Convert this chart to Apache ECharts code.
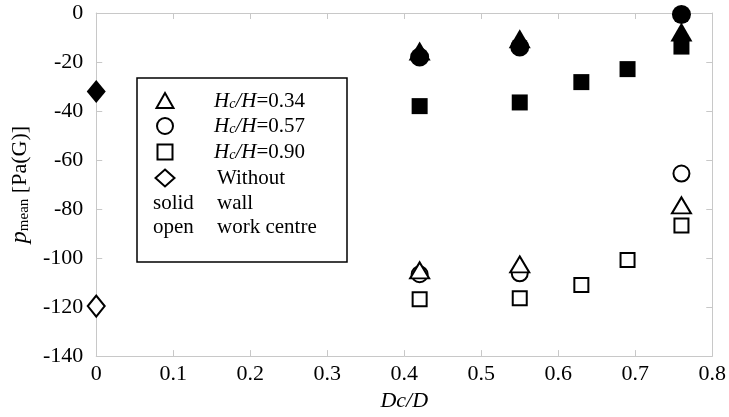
<!DOCTYPE html>
<html><head><meta charset="utf-8">
<script src="https://cdn.jsdelivr.net/npm/echarts@6/dist/echarts.min.js"></script>
<style>html,body{margin:0;padding:0;background:#fff}#c{width:729px;height:417px}</style>
</head><body><div id="c"></div>
<script>
// x positions (Dc/D)
const dc0 = [0];
const dc3 = [0.42, 0.55, 0.76];
const dc5 = [0.42, 0.55, 0.63, 0.69, 0.76];
// solid = wall
const wall034 = [-15.5, -10.5, -7.8];
const wall057 = [-18, -13.9, -0.6];
const wall090 = [-38, -36.5, -28.2, -22.9, -13.7];
const wallWithout = [-32];
// open = work centre
const open034 = [-105, -102.6, -78.5];
const open057 = [-106.6, -106.2, -65.5];
const open090 = [-116.8, -116.4, -111, -100.8, -86.7];
const openWithout = [-119.6];
// axes
const xMin = 0, xMax = 0.8, xStep = 0.1;
const yMin = -140, yMax = 0, yStep = 20;

const FONT = '"Liberation Serif", "Times New Roman", serif';
const GREY = '#c8c8c8';

function pts(xs, ys) { return xs.map((x, i) => [x, ys[i]]); }
function ser(name, xs, ys, symbol, size, filled) {
  return {
    name, type: 'scatter', data: pts(xs, ys), symbol, symbolSize: size,
    itemStyle: filled ? { color: '#000', opacity: 1 } : { color: '#fff', borderColor: '#000', borderWidth: 2, opacity: 1 },
    emphasis: { disabled: true }, silent: true
  };
}

const chart = echarts.init(document.getElementById('c'), null, { renderer: 'canvas' });

const axX = (pos, labels) => ({
  type: 'value', position: pos, min: xMin, max: xMax, interval: xStep,
  axisLine: { show: true, onZero: false, lineStyle: { color: GREY, width: 1 } },
  axisTick: { show: true, inside: true, length: 6, lineStyle: { color: GREY } },
  axisLabel: { show: labels, color: '#000', fontFamily: FONT, fontSize: 22, margin: 7 },
  splitLine: { show: false }
});
const axY = (pos, labels) => ({
  type: 'value', position: pos, min: yMin, max: yMax, interval: yStep,
  axisLine: { show: true, onZero: false, lineStyle: { color: GREY, width: 1 } },
  axisTick: { show: true, inside: true, length: 6, lineStyle: { color: GREY } },
  axisLabel: { show: labels, color: '#000', fontFamily: FONT, fontSize: 22, margin: 13 },
  splitLine: { show: false }
});

const xBottom = axX('bottom', true);
xBottom.name = 'Dc/D';
xBottom.nameLocation = 'middle';
xBottom.nameGap = 33;
xBottom.nameTextStyle = { color: '#000', fontFamily: FONT, fontSize: 22, fontStyle: 'italic' };

const yLeft = axY('left', true);
yLeft.name = '{i|p}{s|mean}{n| [Pa(G)]}';
yLeft.nameLocation = 'middle';
yLeft.nameRotate = 90;
yLeft.nameGap = 64;
yLeft.nameTextStyle = {
  color: '#000', fontFamily: FONT, fontSize: 22,
  rich: {
    i: { fontFamily: FONT, fontSize: 24, fontStyle: 'italic', color: '#000' },
    s: { fontFamily: FONT, fontSize: 15, color: '#000', verticalAlign: 'bottom', padding: [8, 0, 0, 0] },
    n: { fontFamily: FONT, fontSize: 22, color: '#000' }
  }
};

// legend (drawn as a boxed key)
const LX = 165, TX = 214, SX = 153;
const rowY = [101, 126, 152, 178, 203, 227];
const legendRich = {
  i: { fontFamily: FONT, fontSize: 21, fontStyle: 'italic', fill: '#000' },
  s: { fontFamily: FONT, fontSize: 14, fontStyle: 'italic', fill: '#000', verticalAlign: 'bottom', padding: [6, 0, 0, 0] },
  n: { fontFamily: FONT, fontSize: 21, fill: '#000' }
};
const legendLabels = ['0.34', '0.57', '0.90'];
const graphics = [
  { type: 'rect', shape: { x: 137, y: 78, width: 210, height: 184 }, style: { fill: '#fff', stroke: '#000', lineWidth: 1.5 }, z: 10 },
  { type: 'polygon', shape: { points: [[LX, rowY[0] - 8], [LX + 8.5, rowY[0] + 7], [LX - 8.5, rowY[0] + 7]] }, style: { fill: '#fff', stroke: '#000', lineWidth: 2 }, z: 11 },
  { type: 'circle', shape: { cx: LX, cy: rowY[1], r: 8 }, style: { fill: '#fff', stroke: '#000', lineWidth: 2 }, z: 11 },
  { type: 'rect', shape: { x: LX - 7.5, y: rowY[2] - 7.5, width: 15, height: 15 }, style: { fill: '#fff', stroke: '#000', lineWidth: 2 }, z: 11 },
  { type: 'polygon', shape: { points: [[LX, rowY[3] - 8.5], [LX + 9.5, rowY[3]], [LX, rowY[3] + 8.5], [LX - 9.5, rowY[3]]] }, style: { fill: '#fff', stroke: '#000', lineWidth: 2 }, z: 11 }
];
legendLabels.forEach((v, k) => {
  graphics.push({ type: 'text', z: 11, style: { x: TX, y: rowY[k], text: '{i|H}{s|c}{i|/H}{n|=' + v + '}', rich: legendRich, verticalAlign: 'middle', align: 'left', font: '21px ' + FONT } });
});
[['Without', 3], ['wall', 4], ['work centre', 5]].forEach(([t, k]) => {
  graphics.push({ type: 'text', z: 11, style: { x: TX + 3, y: rowY[k], text: t, font: '21px ' + FONT, fill: '#000', verticalAlign: 'middle', align: 'left' } });
});
[['solid', 4], ['open', 5]].forEach(([t, k]) => {
  graphics.push({ type: 'text', z: 11, style: { x: SX, y: rowY[k], text: t, font: '21px ' + FONT, fill: '#000', verticalAlign: 'middle', align: 'left' } });
});

chart.setOption({
  animation: false,
  backgroundColor: '#fff',
  grid: { left: 96, right: 15, top: 13, bottom: 60, containLabel: false },
  xAxis: [xBottom, axX('top', false)],
  yAxis: [yLeft, axY('right', false)],
  series: [
    ser('Hc/H=0.90 open', dc5, open090, 'rect', 14, false),
    ser('Hc/H=0.57 open', dc3, open057, 'circle', 16, false),
    ser('Hc/H=0.34 open', dc3, open034, 'triangle', [19, 16], false),
    ser('Without open', dc0, openWithout, 'diamond', [17, 21], false),
    ser('Hc/H=0.90 wall', dc5, wall090, 'rect', 16, true),
    ser('Hc/H=0.34 wall', dc3, wall034, 'triangle', [22, 19], true),
    ser('Hc/H=0.57 wall', dc3, wall057, 'circle', 19, true),
    ser('Without wall', dc0, wallWithout, 'diamond', [19, 23], true)
  ],
  graphic: graphics
});
</script></body></html>
